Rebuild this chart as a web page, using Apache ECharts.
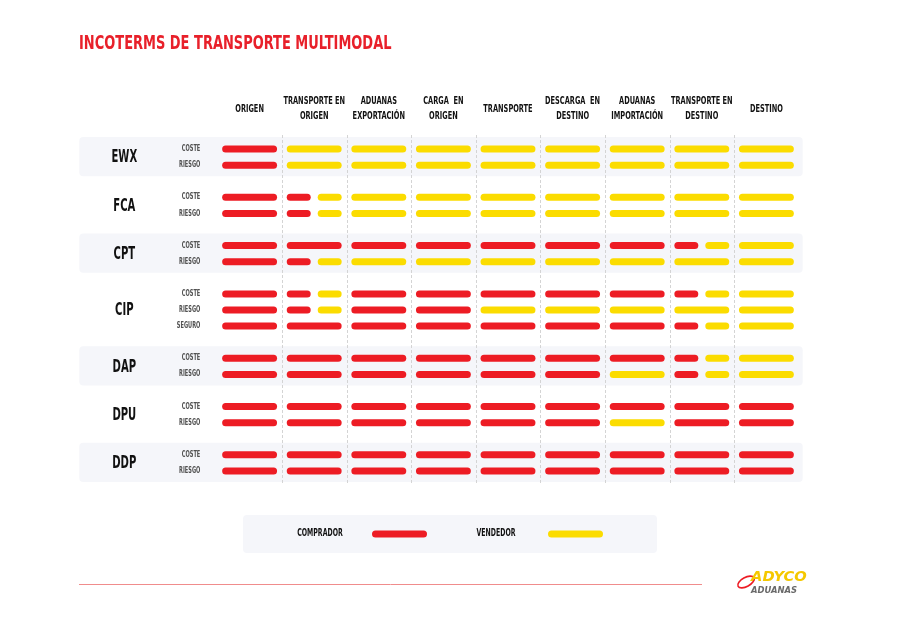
<!DOCTYPE html>
<html>
<head>
<meta charset="utf-8">
<script src="https://cdn.jsdelivr.net/npm/echarts@6/dist/echarts.min.js"></script>
<style>html,body{margin:0;padding:0;background:#fff}#chart{width:900px;height:631px}</style>
</head>
<body>
<div id="chart"></div>
<script>
// ---------- DATA ----------
const columns = ['ORIGEN', 'TRANSPORTE EN\nORIGEN', 'ADUANAS\nEXPORTACIÓN', 'CARGA  EN\nORIGEN', 'TRANSPORTE',
  'DESCARGA  EN\nDESTINO', 'ADUANAS\nIMPORTACIÓN', 'TRANSPORTE EN\nDESTINO', 'DESTINO'];
const incoterms = ['EWX', 'FCA', 'CPT', 'CIP', 'DAP', 'DPU', 'DDP'];
// C = comprador, V = vendedor, CV = compartido
const EWX_COSTE  = ['C','V','V','V','V','V','V','V','V'];
const EWX_RIESGO = ['C','V','V','V','V','V','V','V','V'];
const FCA_COSTE  = ['C','CV','V','V','V','V','V','V','V'];
const FCA_RIESGO = ['C','CV','V','V','V','V','V','V','V'];
const CPT_COSTE  = ['C','C','C','C','C','C','C','CV','V'];
const CPT_RIESGO = ['C','CV','V','V','V','V','V','V','V'];
const CIP_COSTE  = ['C','CV','C','C','C','C','C','CV','V'];
const CIP_RIESGO = ['C','CV','C','C','V','V','V','V','V'];
const CIP_SEGURO = ['C','C','C','C','C','C','C','CV','V'];
const DAP_COSTE  = ['C','C','C','C','C','C','C','CV','V'];
const DAP_RIESGO = ['C','C','C','C','C','C','V','CV','V'];
const DPU_COSTE  = ['C','C','C','C','C','C','C','C','C'];
const DPU_RIESGO = ['C','C','C','C','C','C','V','C','C'];
const DDP_COSTE  = ['C','C','C','C','C','C','C','C','C'];
const DDP_RIESGO = ['C','C','C','C','C','C','C','C','C'];

const groups = [
  [['COSTE', EWX_COSTE], ['RIESGO', EWX_RIESGO]],
  [['COSTE', FCA_COSTE], ['RIESGO', FCA_RIESGO]],
  [['COSTE', CPT_COSTE], ['RIESGO', CPT_RIESGO]],
  [['COSTE', CIP_COSTE], ['RIESGO', CIP_RIESGO], ['SEGURO', CIP_SEGURO]],
  [['COSTE', DAP_COSTE], ['RIESGO', DAP_RIESGO]],
  [['COSTE', DPU_COSTE], ['RIESGO', DPU_RIESGO]],
  [['COSTE', DDP_COSTE], ['RIESGO', DDP_RIESGO]]
];
const legendNames = ['COMPRADOR', 'VENDEDOR'];
const titleText = 'INCOTERMS DE TRANSPORTE MULTIMODAL';

// ---------- BUILD ----------
const RED = '#ed1c24', YELLOW = '#fbdc00';
const FONT = '"DejaVu Sans Condensed", "DejaVu Sans", sans-serif';
const slotLabels = [];
const compradorData = [], vendedorData = [], groupData = [];
groups.forEach((g, gi) => {
  const first = slotLabels.length;
  g.forEach(([label, cells]) => {
    const s = slotLabels.length;
    slotLabels.push(label);
    cells.forEach((code, c) => {
      if (code === 'C') compradorData.push([c, s, 0]);
      else if (code === 'V') vendedorData.push([c, s, 0]);
      else { compradorData.push([c, s, 1]); vendedorData.push([c, s, 2]); }
    });
  });
  groupData.push([gi, first, slotLabels.length - 1]);
  if (gi < groups.length - 1) slotLabels.push('');
});
const headerData = columns.map((_, i) => [i, 0]);

function narrowText(x, y, text, opts) {
  return { type: 'text', x: x, y: y, scaleX: opts.scaleX, scaleY: 1,
    style: Object.assign({ x: 0, y: 0, text: text, fontFamily: FONT, fontWeight: 'bold' }, opts.style) };
}

function renderBar(params, api) {
  const p = api.coord([api.value(0), api.value(1)]);
  const colW = api.size([1, 0])[0];
  const full = colW * 0.85, gap = 7, half = (full - gap) / 2, h = 7;
  const t = api.value(2);
  let x0 = p[0] - full / 2, w = full;
  if (t === 1) w = half;
  if (t === 2) { x0 = p[0] + full / 2 - half; w = half; }
  return { type: 'rect', shape: { x: x0, y: p[1] - h / 2, width: w, height: h, r: h / 2 },
    style: { fill: api.visual('color') } };
}

function renderGroup(params, api) {
  const cs = params.coordSys;
  const gi = api.value(0);
  const s1 = api.value(1), s2 = api.value(2);
  const y1 = api.coord([0, s1])[1];
  const y2 = api.coord([0, s2])[1];
  const children = [];
  if (gi % 2 === 0) {
    children.push({ type: 'rect', shape: { x: cs.x - 138, y: y1 - 12, width: cs.width + 142, height: y2 - y1 + 23, r: 4 },
      style: { fill: '#f5f6fa' } });
  }
  children.push(narrowText(cs.x - 93, (y1 + y2) / 2 + 0.5, incoterms[gi],
    { scaleX: 0.62, style: { align: 'center', verticalAlign: 'middle', fontSize: 18, fill: '#111' } }));
  for (let s = s1; s <= s2; s++) {
    const y = api.coord([0, s])[1];
    children.push(narrowText(cs.x - 17, y, slotLabels[s],
      { scaleX: 0.7, style: { align: 'right', verticalAlign: 'middle', fontSize: 8, fill: '#505050' } }));
  }
  return { type: 'group', children };
}

function renderHeader(params, api) {
  const cs = params.coordSys;
  const i = api.value(0);
  const x = api.coord([i, 0])[0];
  const colW = api.size([1, 0])[0];
  const children = [narrowText(x, cs.y - 32, columns[i],
    { scaleX: 0.7, style: { align: 'center', verticalAlign: 'middle', fontSize: 10.5, lineHeight: 15, fill: '#111' } })];
  if (i < columns.length - 1) {
    const xl = Math.round(x + colW / 2) + 0.5;
    children.push({ type: 'line', shape: { x1: xl, y1: cs.y - 6, x2: xl, y2: cs.y + cs.height + 6 },
      style: { stroke: '#d4d4d4', lineWidth: 1, lineDash: [3, 2] } });
  }
  return { type: 'group', children };
}

const chart = echarts.init(document.getElementById('chart'), null, { renderer: 'canvas' });
chart.setOption({
  backgroundColor: '#fff',
  animation: false,
  grid: { left: 217.3, right: 101.3, top: 141, bottom: 152 },
  xAxis: {
    type: 'category', position: 'top', data: columns,
    axisLine: { show: false }, axisTick: { show: false }, axisLabel: { show: false }, splitLine: { show: false }
  },
  yAxis: {
    type: 'category', inverse: true, data: slotLabels,
    axisLine: { show: false }, axisTick: { show: false }, splitLine: { show: false }, axisLabel: { show: false }
  },
  series: [
    { type: 'custom', name: 'grupos', z: -1, renderItem: renderGroup, data: groupData, silent: true },
    { type: 'custom', name: 'cabecera', z: 0, renderItem: renderHeader, data: headerData, silent: true },
    { type: 'custom', name: legendNames[0], itemStyle: { color: RED }, renderItem: renderBar, data: compradorData },
    { type: 'custom', name: legendNames[1], itemStyle: { color: YELLOW }, renderItem: renderBar, data: vendedorData }
  ],
  graphic: [
    { type: 'text', x: 79, y: 44, scaleX: 0.76, style: { x: 0, y: 0, text: titleText, fontFamily: FONT, fontWeight: 'bold',
      fontSize: 19, fill: '#e8202a', verticalAlign: 'middle' } },
    // legend
    { type: 'rect', shape: { x: 243, y: 515, width: 414, height: 38, r: 4 }, style: { fill: '#f5f6fa' } },
    { type: 'text', x: 320, y: 533, scaleX: 0.66, style: { x: 0, y: 0, text: legendNames[0], fontFamily: FONT, fontWeight: 'bold',
      fontSize: 10.5, fill: '#111', align: 'center', verticalAlign: 'middle' } },
    { type: 'rect', shape: { x: 372, y: 530.5, width: 55, height: 7, r: 3.5 }, style: { fill: RED } },
    { type: 'text', x: 496, y: 533, scaleX: 0.66, style: { x: 0, y: 0, text: legendNames[1], fontFamily: FONT, fontWeight: 'bold',
      fontSize: 10.5, fill: '#111', align: 'center', verticalAlign: 'middle' } },
    { type: 'rect', shape: { x: 548, y: 530.5, width: 55, height: 7, r: 3.5 }, style: { fill: YELLOW } },
    // footer
    { type: 'line', shape: { x1: 79, y1: 584.5, x2: 702, y2: 584.5 }, style: { stroke: '#f08c8c', lineWidth: 1 } },
    { type: 'ellipse', shape: { cx: 746, cy: 582, rx: 9, ry: 4.5 }, rotation: 0.5, originX: 746, originY: 582,
      style: { fill: 'none', stroke: RED, lineWidth: 1.6 } },
    { type: 'text', x: 751, y: 584, scaleX: 1.05, style: { x: 0, y: 0, text: 'ADYCO', fontFamily: 'DejaVu Sans', fontStyle: 'italic', fontWeight: 'bold',
      fontSize: 14, fill: '#f5c800', verticalAlign: 'bottom' } },
    { type: 'text', x: 751, y: 591, scaleX: 1.05, style: { x: 0, y: 0, text: 'ADUANAS', fontFamily: 'DejaVu Sans', fontStyle: 'italic', fontWeight: 'bold',
      fontSize: 8, fill: '#6a6a6a', verticalAlign: 'middle' } }
  ]
});
</script>
</body>
</html>
